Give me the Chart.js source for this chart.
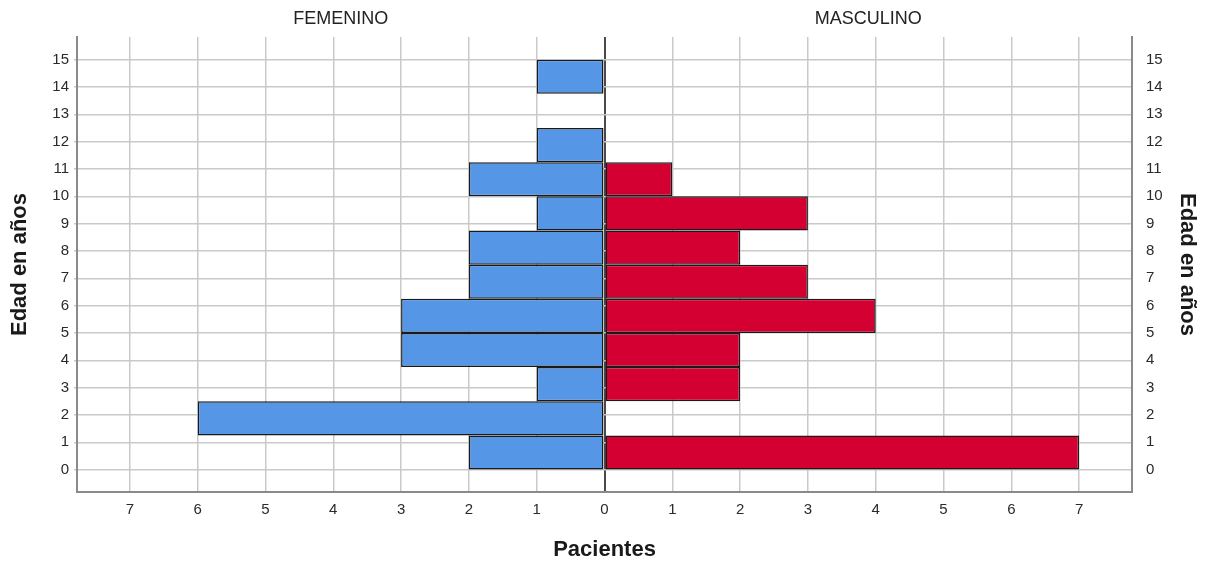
<!DOCTYPE html>
<html>
<head>
    <title>Pirámide de edad</title>
    <script src="https://cdn.jsdelivr.net/npm/chart.js"></script>
    <style>
        body { margin: 0; background: #fff; }
        #wrap { width: 1207px; height: 561px; position: relative; }
    </style>
</head>
<body>
    <div id="wrap"><canvas id="myChart"></canvas></div>

    <script>
        // bin midpoints (age in years, bins of 1.25 from 0 to 15)
        const ageMid = [0.625, 1.875, 3.125, 4.375, 5.625, 6.875, 8.125, 9.375, 10.625, 11.875, 13.125, 14.375];
        // number of patients per bin
        const femenino = [2, 6, 1, 3, 3, 2, 2, 1, 2, 1, 0, 1];
        const masculino = [7, 0, 2, 2, 4, 3, 2, 3, 1, 0, 0, 0];
        const sexLabels = ['FEMENINO', 'MASCULINO'];

        const font_family = "'Liberation Sans', Arial, sans-serif";
        const gridColor = '#c9c9c9';
        const axisColor = '#8a8a8a';

        // female bars go to the left (negative), empty bins are skipped
        const femData = ageMid.map((y, i) => ({ x: femenino[i] ? -femenino[i] : null, y: y }));
        const mascData = ageMid.map((y, i) => ({ x: masculino[i] ? masculino[i] : null, y: y }));

        const barStyle = {
            borderColor: '#1a1a1a',
            borderWidth: 1.5,
            borderSkipped: false,
            grouped: false,
            categoryPercentage: 1.25,
            barPercentage: 1
        };

        const tickFont = { family: font_family, size: 15 };
        const titleFont = { family: font_family, size: 22, weight: 'bold', lineHeight: 1 };

        const yRange = { min: -0.82, max: 15.83 };

        const config = {
            type: 'bar',
            data: {
                datasets: [
                    Object.assign({ label: sexLabels[0], data: femData, backgroundColor: '#5596e6' }, barStyle),
                    Object.assign({ label: sexLabels[1], data: mascData, backgroundColor: '#d50032' }, barStyle)
                ]
            },
            options: {
                indexAxis: 'y',
                responsive: true,
                maintainAspectRatio: false,
                animation: false,
                layout: { padding: 0 },
                scales: {
                    x: {
                        type: 'linear',
                        position: 'bottom',
                        min: -7.78,
                        max: 7.78,
                        grid: {
                            color: c => (c.tick && c.tick.value === 0) ? '#4a4a4a' : gridColor,
                            lineWidth: c => (c.tick && c.tick.value === 0) ? 2 : 1.5,
                            drawTicks: false
                        },
                        border: { display: true, color: axisColor, width: 2 },
                        ticks: {
                            stepSize: 1,
                            includeBounds: false,
                            padding: 9,
                            color: '#2a2a2a',
                            font: tickFont,
                            callback: v => Math.abs(v)
                        },
                        title: {
                            display: true,
                            text: 'Pacientes',
                            color: '#1a1a1a',
                            font: titleFont,
                            padding: { top: 0, bottom: 0 }
                        },
                        afterFit: s => { s.height = 69; }
                    },
                    xTop: {
                        type: 'category',
                        position: 'top',
                        labels: sexLabels,
                        offset: true,
                        grid: { display: false, drawTicks: false },
                        border: { display: false },
                        ticks: {
                            padding: 7,
                            color: '#222',
                            font: { family: font_family, size: 18 }
                        },
                        afterFit: s => { s.height = 37; }
                    },
                    y: {
                        type: 'linear',
                        position: 'left',
                        min: yRange.min,
                        max: yRange.max,
                        offset: false,
                        grid: {
                            offset: false,
                            color: gridColor,
                            lineWidth: 1.5,
                            drawTicks: true,
                            tickLength: 3
                        },
                        border: { display: true, color: axisColor, width: 2 },
                        ticks: {
                            stepSize: 1,
                            includeBounds: false,
                            padding: 5,
                            color: '#2a2a2a',
                            font: tickFont
                        },
                        title: {
                            display: true,
                            text: 'Edad en años',
                            color: '#1a1a1a',
                            font: titleFont,
                            padding: { top: 8.5, bottom: 0 }
                        },
                        afterFit: s => { s.width = 77; }
                    },
                    y2: {
                        type: 'linear',
                        position: 'right',
                        min: yRange.min,
                        max: yRange.max,
                        offset: false,
                        grid: { display: false, offset: false },
                        border: { display: true, color: axisColor, width: 2 },
                        ticks: {
                            stepSize: 1,
                            includeBounds: false,
                            padding: 6,
                            color: '#2a2a2a',
                            font: tickFont
                        },
                        title: {
                            display: true,
                            text: 'Edad en años',
                            color: '#1a1a1a',
                            font: titleFont,
                            padding: { top: 9, bottom: 0 }
                        },
                        afterFit: s => { s.width = 75; }
                    }
                },
                plugins: {
                    legend: { display: false },
                    tooltip: { enabled: false },
                    title: { display: false }
                }
            }
        };

        // Render the chart
        var myChart = new Chart(document.getElementById('myChart'), config);
    </script>
</body>
</html>
